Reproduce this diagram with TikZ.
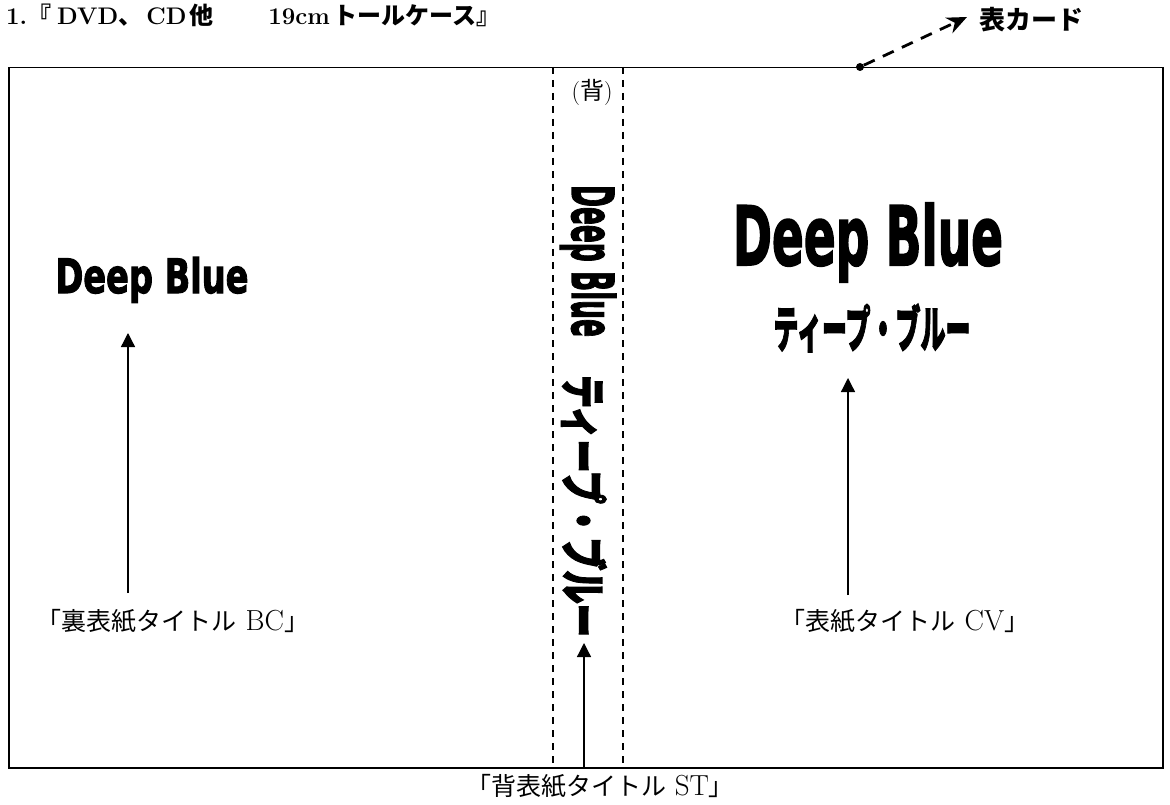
\documentclass[tikz,border=0pt]{standalone}
\usepackage{fontspec}
\usepackage{graphicx}
\usetikzlibrary{arrows.meta}
\newfontfamily\jp{Noto Sans CJK JP}
\newfontfamily\jpx{Noto Sans CJK JP}[BoldFeatures={FakeBold=2.5}]
\newfontfamily\deep{DejaVu Sans}[BoldFeatures={FakeBold=2.5}]
\newcommand{\lat}[1]{{\rmfamily\fontsize{29}{29}\selectfont #1}}
\tikzset{
  lbl/.style={inner sep=0pt, font=\fontsize{25}{25}\selectfont},
  uparrow/.style={line width=1.3pt, -{Triangle[length=14pt,width=14pt]}},
  spineline/.style={line width=1.3pt, dash pattern=on 7pt off 6pt},
  plain/.style={inner sep=0pt},
}
\begin{document}
\begin{tikzpicture}[x=1pt,y=-1pt]
\useasboundingbox (0,0) rectangle (1170,805);
% title
\node[plain, anchor=base west, font=\bfseries\fontsize{24}{24}\selectfont] (title) at (6,25)
  {1.{\jp\bfseries 『}\hspace{6pt}DVD{\jp\bfseries 、}\hspace{4pt}CD\hspace{3pt}{\jp\bfseries 他}\hspace{55pt}19cm\hspace{4pt}{\jp\bfseries トールケース』}};
% frame
\node[draw, line width=1.5pt, minimum width=1154pt, minimum height=700pt, inner sep=0pt, anchor=north west] (frame) at (8,67) {};
% spine
\coordinate (s1t) at (553,67); \coordinate (s1b) at (553,767);
\coordinate (s2t) at (623,67); \coordinate (s2b) at (623,767);
\draw[spineline] (s1t) -- (s1b);
\draw[spineline] (s2t) -- (s2b);
\node[plain, font=\fontsize{24}{24}\selectfont] (se) at (592,92) {(\jp 背\rmfamily)};
% Deep Blue texts
\node[plain, anchor=base] (dbL) at (152,293) {\resizebox{193pt}{36pt}{\deep\bfseries Deep Blue}};
\node[plain, anchor=base] (dbR) at (868,265) {\resizebox{270pt}{62pt}{\deep\bfseries Deep Blue}};
\node[plain] (ktR) at (872,328) {\resizebox{197pt}{44pt}{\jpx\bfseries ティープ・ブルー}};
\node[plain, rotate=-90] (dbS) at (588,261) {\resizebox{152pt}{44pt}{\deep\bfseries Deep Blue}};
\node[plain, rotate=-90] (ktS) at (584,506) {\resizebox{262pt}{41pt}{\jpx\bfseries ティープ・ブルー}};
% labels
\node[lbl] (bc) at (173,621) {\jp 「裏表紙タイトル\lat{\ BC}」};
\node[lbl] (cv) at (905,621) {\jp 「表紙タイトル\lat{\ CV}」};
\node[lbl] (st) at (600,786) {\jp 「背表紙タイトル\lat{\ ST}」};
% arrows
\coordinate (aL0) at (128,593); \coordinate (aL1) at (128,333);
\coordinate (aR0) at (848,595); \coordinate (aR1) at (848,378);
\coordinate (aS0) at (584,767); \coordinate (aS1) at (584,643);
\draw[uparrow] (aL0) -- (aL1);
\draw[uparrow] (aR0) -- (aR1);
\draw[uparrow] (aS0) -- (aS1);
% front card
\node[circle, fill, inner sep=0pt, minimum size=8pt] (dot) at (860,67) {};
\coordinate (cardtip) at (967,17);
\draw[line width=2.8pt, dash pattern=on 12pt off 9pt, -{Stealth[length=20pt,width=17pt]}] (dot) -- (cardtip);
\node[plain, anchor=west, font=\jp\bfseries\fontsize{26}{26}\selectfont] (card) at (979,20) {表カード};
\end{tikzpicture}
\end{document}
